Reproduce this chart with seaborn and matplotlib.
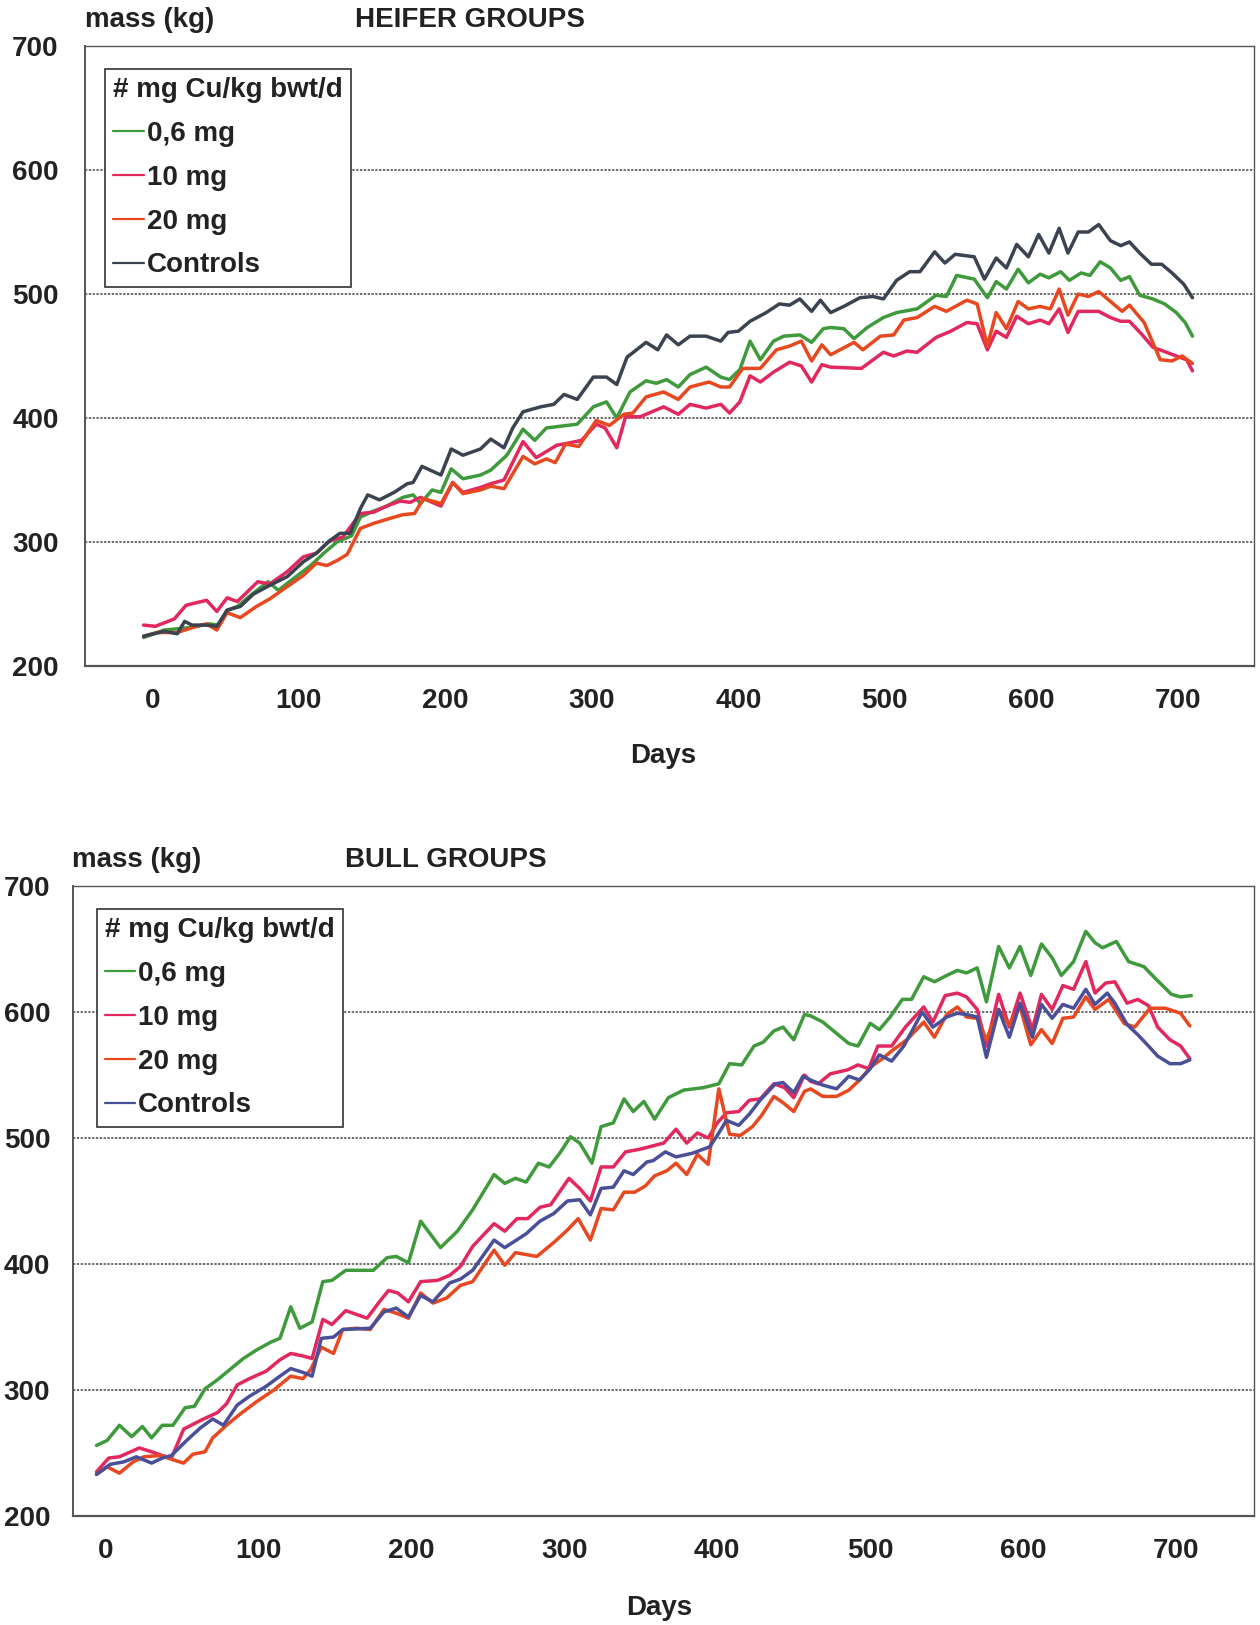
import numpy as np
import pandas as pd
import matplotlib
matplotlib.use('Agg')
import matplotlib.pyplot as plt
import seaborn as sns
from matplotlib.ticker import MultipleLocator

sns.set_theme(style='white')
plt.rcParams['font.family'] = ['Liberation Sans', 'DejaVu Sans']
plt.rcParams['font.weight'] = 'bold'

groups = ['0,6 mg', '10 mg', '20 mg', 'Controls']
legend_title = '# mg Cu/kg bwt/d'

# ---------------- HEIFER GROUPS ----------------
h_green_days = [-6, 8, 26, 39, 45, 51, 58, 67, 79, 86, 98, 108, 117, 126, 136, 142, 149, 160, 171, 178, 183, 191, 197, 204, 212, 224,
                231, 242, 253, 261, 269, 290, 301, 310, 317, 326, 337, 344, 351, 359, 367, 378, 388, 394, 401, 408, 415, 424, 431, 442, 450, 458,
                463, 472, 479, 488, 499, 508, 522, 535, 542, 549, 561, 570, 576, 583, 591, 598, 606, 612, 620, 626, 634, 640, 647, 654, 661, 667,
                674, 683, 691, 699, 705, 710]
h_green_mass = [223, 229, 231, 234, 233, 245, 248, 257, 268, 261, 272, 281, 291, 300, 305, 320, 324, 329, 336, 338, 331, 342, 340, 359, 351, 354,
                358, 370, 391, 382, 392, 395, 409, 413, 400, 421, 430, 428, 431, 425, 435, 441, 433, 431, 439, 462, 447, 462, 466, 467, 461, 472,
                473, 472, 464, 473, 481, 485, 488, 499, 498, 515, 512, 497, 510, 504, 520, 509, 516, 513, 518, 511, 517, 515, 526, 521, 511, 514,
                499, 496, 492, 485, 477, 466]

h_10_days = [-6, 2, 15, 23, 37, 44, 51, 58, 72, 80, 92, 103, 112, 121, 130, 142, 151, 160, 169, 176, 183, 197, 205, 212, 224,
             231, 240, 253, 262, 276, 285, 293, 303, 309, 317, 323, 333, 349, 359, 367, 378, 388, 394, 401, 408, 415, 424, 435, 443, 450, 457,
             463, 484, 499, 506, 515, 522, 535, 545, 556, 563, 570, 576, 583, 590, 598, 606, 612, 619, 625, 632, 646, 654, 661, 667,
             675, 683, 690, 699, 706, 710]
h_10_mass = [233, 232, 238, 249, 253, 244, 255, 252, 268, 266, 276, 288, 291, 301, 304, 323, 324, 329, 333, 332, 336, 329, 348, 340, 344,
             347, 350, 381, 368, 378, 380, 382, 395, 392, 376, 401, 401, 409, 403, 411, 408, 411, 404, 413, 434, 429, 437, 445, 442, 429, 443,
             441, 440, 453, 450, 454, 453, 465, 470, 477, 476, 455, 470, 465, 482, 476, 479, 476, 488, 469, 486, 486, 481, 478, 478,
             468, 457, 454, 450, 447, 438]

h_20_days = [-6, 3, 17, 30, 37, 44, 51, 60, 71, 80, 92, 103, 112, 119, 126, 133, 142, 151, 162, 171, 179, 185, 197, 205, 212, 224,
             231, 240, 253, 261, 269, 275, 282, 291, 303, 312, 322, 328, 337, 349, 359, 367, 380, 388, 394, 403, 415, 426, 435, 443, 450, 457,
             463, 479, 485, 497, 506, 513, 522, 534, 542, 556, 563, 570, 576, 583, 591, 598, 606, 613, 619, 625, 632, 639, 646, 654, 662,
             667, 677, 688, 696, 703, 710]
h_20_mass = [224, 227, 227, 232, 234, 229, 243, 239, 248, 254, 264, 273, 283, 281, 285, 290, 311, 315, 319, 322, 323, 335, 331, 348, 339, 342,
             345, 343, 369, 363, 367, 364, 379, 377, 398, 394, 403, 404, 417, 421, 415, 425, 429, 425, 425, 440, 440, 455, 458, 462, 446, 459,
             451, 461, 455, 466, 467, 479, 481, 490, 486, 495, 492, 458, 485, 472, 494, 488, 490, 488, 504, 483, 500, 498, 502, 494, 486,
             491, 477, 447, 446, 450, 444]

h_ctrl_days = [-6, 8, 17, 22, 27, 37, 44, 51, 60, 69, 80, 92, 103, 112, 121, 128, 135, 142, 147, 155, 165, 174, 178, 184, 197, 204, 212, 224,
               231, 240, 246, 253, 265, 274, 281, 290, 301, 310, 317, 324, 337, 345, 351, 359, 367, 378, 388, 393, 400, 408, 419, 428, 435, 442, 450, 456,
               463, 472, 483, 492, 499, 508, 517, 524, 534, 541, 548, 561, 568, 576, 583, 590, 598, 605, 612, 619, 625, 632, 639, 646, 654, 661, 667,
               674, 682, 689, 696, 704, 710]
h_ctrl_mass = [224, 228, 226, 236, 233, 233, 232, 245, 248, 258, 265, 272, 284, 291, 301, 307, 307, 327, 338, 334, 340, 347, 348, 361, 354, 375, 370, 375,
               383, 376, 392, 405, 409, 411, 419, 415, 433, 433, 427, 449, 461, 455, 467, 459, 466, 466, 462, 469, 470, 478, 485, 492, 491, 496, 486, 495,
               485, 490, 497, 498, 496, 511, 518, 518, 534, 525, 532, 530, 512, 529, 521, 540, 530, 548, 533, 553, 533, 550, 550, 556, 543, 539, 542,
               533, 524, 524, 517, 508, 497]

# ---------------- BULL GROUPS ----------------
b_green_days = [-6, 1, 9, 17, 24, 30, 37, 44, 52, 58, 65, 73, 81, 90, 99, 108, 114, 121, 127, 135, 142, 148, 157, 175, 184, 190, 198, 206, 219, 230,
                240, 254, 261, 268, 275, 283, 290, 297, 304, 310, 318, 324, 332, 339, 345, 352, 359, 368, 378, 391, 401, 408, 416, 424, 430, 437, 443, 450, 457,
                461, 469, 478, 486, 492, 500, 506, 513, 521, 527, 535, 542, 550, 557, 563, 570, 576, 584, 591, 598, 605, 612, 619, 625, 633, 641, 647, 652,
                661, 669, 679, 687, 697, 703, 710]
b_green_mass = [256, 260, 272, 263, 271, 262, 272, 272, 286, 287, 301, 308, 316, 325, 332, 338, 341, 366, 349, 354, 386, 387, 395, 395, 405, 406, 401, 434, 413, 426,
                443, 471, 464, 468, 465, 480, 477, 488, 501, 496, 480, 509, 512, 531, 521, 529, 515, 532, 538, 540, 543, 559, 558, 573, 576, 585, 588, 578, 598,
                597, 592, 583, 575, 573, 591, 586, 596, 610, 610, 628, 624, 629, 633, 631, 635, 608, 652, 635, 652, 629, 654, 643, 629, 640, 664, 655, 651,
                656, 640, 636, 626, 614, 612, 613]

b_10_days = [-6, 2, 9, 22, 30, 37, 43, 51, 64, 73, 79, 86, 94, 105, 114, 121, 129, 135, 142, 148, 157, 171, 179, 185, 191, 198, 206, 217, 225,
             232, 240, 254, 261, 269, 276, 284, 291, 303, 310, 317, 324, 332, 340, 349, 365, 373, 380, 387, 394, 400, 406, 414, 421, 428, 437, 444, 450, 457,
             461, 466, 474, 485, 492, 499, 505, 514, 523, 535, 541, 549, 557, 563, 570, 576, 584, 591, 598, 606, 612, 619, 626, 633, 641, 647, 654,
             660, 668, 675, 682, 688, 696, 703, 709]
b_10_mass = [235, 246, 247, 254, 251, 248, 246, 269, 277, 282, 289, 304, 309, 315, 324, 329, 327, 325, 356, 352, 363, 357, 370, 379, 377, 370, 386, 387, 391,
             398, 414, 432, 426, 436, 436, 445, 447, 468, 460, 450, 477, 477, 489, 491, 496, 507, 496, 504, 500, 512, 520, 521, 530, 531, 543, 540, 532, 550,
             545, 543, 551, 554, 558, 555, 573, 573, 588, 604, 592, 613, 615, 612, 602, 573, 614, 588, 615, 586, 614, 602, 621, 618, 640, 615, 623,
             624, 607, 610, 605, 588, 578, 573, 563]

b_20_days = [-6, 1, 9, 18, 25, 36, 43, 51, 57, 65, 70, 79, 88, 99, 110, 121, 129, 134, 141, 149, 155, 164, 173, 182, 190, 198, 206, 214, 223,
             232, 240, 254, 261, 268, 282, 293, 302, 309, 317, 324, 332, 339, 346, 353, 359, 367, 373, 380, 387, 394, 401, 408, 415, 423, 429, 437, 443, 450, 457,
             461, 469, 478, 486, 493, 501, 508, 515, 524, 535, 542, 550, 557, 563, 570, 576, 584, 591, 598, 605, 612, 619, 626, 633, 641, 647, 656,
             666, 673, 683, 693, 703, 709]
b_20_mass = [233, 239, 234, 243, 247, 248, 245, 242, 249, 251, 262, 272, 281, 291, 300, 311, 309, 316, 334, 329, 348, 349, 348, 364, 361, 357, 377, 369, 373,
             383, 386, 411, 399, 409, 406, 417, 427, 436, 419, 444, 443, 457, 457, 462, 470, 474, 480, 471, 487, 479, 539, 503, 502, 509, 518, 533, 528, 521, 537,
             539, 533, 533, 538, 546, 557, 563, 570, 578, 592, 580, 598, 604, 596, 595, 578, 602, 590, 604, 574, 586, 575, 595, 596, 612, 602, 610,
             591, 588, 603, 603, 599, 589]

b_ctrl_days = [-6, 3, 12, 20, 30, 37, 43, 53, 62, 70, 77, 86, 94, 105, 114, 121, 129, 135, 141, 149, 155, 173, 182, 190, 198, 206, 214, 225,
               232, 240, 254, 261, 275, 284, 293, 302, 310, 317, 324, 332, 339, 345, 354, 358, 366, 373, 384, 395, 400, 406, 414, 421, 428, 438, 443, 450, 456,
               461, 469, 478, 486, 493, 500, 506, 514, 522, 534, 541, 550, 557, 563, 570, 576, 584, 591, 598, 606, 612, 619, 626, 633, 641, 647, 655,
               660, 668, 675, 682, 688, 696, 703, 709]
b_ctrl_mass = [233, 241, 243, 247, 242, 246, 248, 260, 270, 277, 272, 288, 295, 303, 311, 317, 314, 311, 341, 342, 348, 349, 362, 365, 358, 375, 370, 385,
               388, 395, 419, 413, 424, 434, 440, 450, 451, 439, 460, 461, 474, 471, 481, 482, 489, 485, 488, 493, 502, 514, 510, 519, 530, 543, 544, 536, 549,
               546, 542, 539, 549, 546, 555, 566, 561, 573, 600, 588, 596, 599, 598, 596, 564, 602, 580, 607, 580, 606, 595, 606, 603, 618, 606, 615,
               607, 590, 582, 573, 565, 559, 559, 562]


def long_df(series):
    frames = []
    for name, d, m in series:
        frames.append(pd.DataFrame({'Days': d, 'mass': m, 'group': name}))
    return pd.concat(frames, ignore_index=True)


heifer_df = long_df([(groups[0], h_green_days, h_green_mass),
                     (groups[1], h_10_days, h_10_mass),
                     (groups[2], h_20_days, h_20_mass),
                     (groups[3], h_ctrl_days, h_ctrl_mass)])
bull_df = long_df([(groups[0], b_green_days, b_green_mass),
                   (groups[1], b_10_days, b_10_mass),
                   (groups[2], b_20_days, b_20_mass),
                   (groups[3], b_ctrl_days, b_ctrl_mass)])

heifer_pal = {'0,6 mg': '#3f9a3c', '10 mg': '#e2285f', '20 mg': '#e8481f', 'Controls': '#3b4350'}
bull_pal = {'0,6 mg': '#3f9a3c', '10 mg': '#e2285f', '20 mg': '#e8481f', 'Controls': '#4a4f9a'}

W, H = 1260, 1625
fig = plt.figure(figsize=(W / 100, H / 100), dpi=100)
fig.patch.set_facecolor('white')

TXT = '#222222'
FS = 20


def make_panel(rect_px, xlim, df, pal, title, title_x, leg_xy, ylab_pad, xlab_center, text_y):
    l, t, r, b = rect_px
    ax = fig.add_axes([l / W, 1 - b / H, (r - l) / W, (b - t) / H])
    sns.lineplot(data=df, x='Days', y='mass', hue='group', hue_order=groups, palette=pal,
                 estimator=None, sort=True, linewidth=2.5, ax=ax, legend=True)
    ax.set_xlim(*xlim)
    ax.set_ylim(200, 700)
    ax.set_xticks(range(0, 701, 100))
    ax.set_yticks(range(200, 701, 100))
    ax.xaxis.set_minor_locator(MultipleLocator(20))
    ax.yaxis.set_minor_locator(MultipleLocator(20))
    ax.tick_params(axis='x', which='major', direction='in', length=12, width=1, color='#555555',
                   pad=16, labelsize=FS, labelcolor=TXT)
    ax.tick_params(axis='x', which='minor', direction='in', length=7, width=0.8, color='#555555')
    ax.tick_params(axis='y', which='major', direction='in', length=0, pad=ylab_pad,
                   labelsize=FS, labelcolor=TXT)
    ax.tick_params(axis='y', which='minor', direction='in', length=4, width=0.8, color='#555555')
    for lab in ax.get_xticklabels() + ax.get_yticklabels():
        lab.set_fontweight('bold')
    for y in (300, 400, 500, 600):
        ax.axhline(y, color='#444444', linestyle=(0, (1.5, 1.0)), linewidth=1.1, zorder=0)
    for s in ax.spines.values():
        s.set_color('#555555')
        s.set_linewidth(1.0)
    ax.spines['bottom'].set_linewidth(1.6)
    ax.spines['left'].set_linewidth(1.4)
    ax.set_xlabel('Days', fontsize=FS, fontweight='bold', color=TXT)
    ax.xaxis.set_label_coords((xlab_center[0] - l) / (r - l), -(xlab_center[1] - 11 - b) / (b - t))
    ax.set_ylabel('')
    leg = ax.legend(title=legend_title, loc='upper left', bbox_to_anchor=leg_xy, borderaxespad=0,
                    frameon=True, fancybox=False, alignment='left',
                    handlelength=1.1, handletextpad=0.1, labelspacing=0.64,
                    borderpad=0.3, prop={'weight': 'bold', 'size': FS}, title_fontsize=FS)
    leg.get_title().set_fontweight('bold')
    leg.get_title().set_color(TXT)
    for txt in leg.get_texts():
        txt.set_color(TXT)
    for ln in leg.get_lines():
        ln.set_linewidth(1.6)
    fr = leg.get_frame()
    fr.set_edgecolor('#333333')
    fr.set_linewidth(1.2)
    fr.set_alpha(1)
    # texts above the axes
    ax.text(0.0, (b - text_y) / (b - t), 'mass (kg)', transform=ax.transAxes, ha='left', va='center',
            fontsize=FS, fontweight='bold', color=TXT)
    ax.text((title_x - l) / (r - l), (b - text_y) / (b - t), title, transform=ax.transAxes, ha='left',
            va='center', fontsize=FS, fontweight='bold', color=TXT)
    return ax


ax1 = make_panel((85, 46, 1254, 666), (-46, 752), heifer_df, heifer_pal, 'HEIFER GROUPS', 355,
                 (20 / 1169, (666 - 69) / 620), 19, (663, 754), 20)

ax2 = make_panel((72.5, 886, 1254, 1516), (-21.7, 751), bull_df, bull_pal, 'BULL GROUPS', 345,
                 (24 / 1181.5, (1516 - 909) / 630), 16, (659, 1606), 860)

fig.savefig('out.png', dpi=100, facecolor='white')
